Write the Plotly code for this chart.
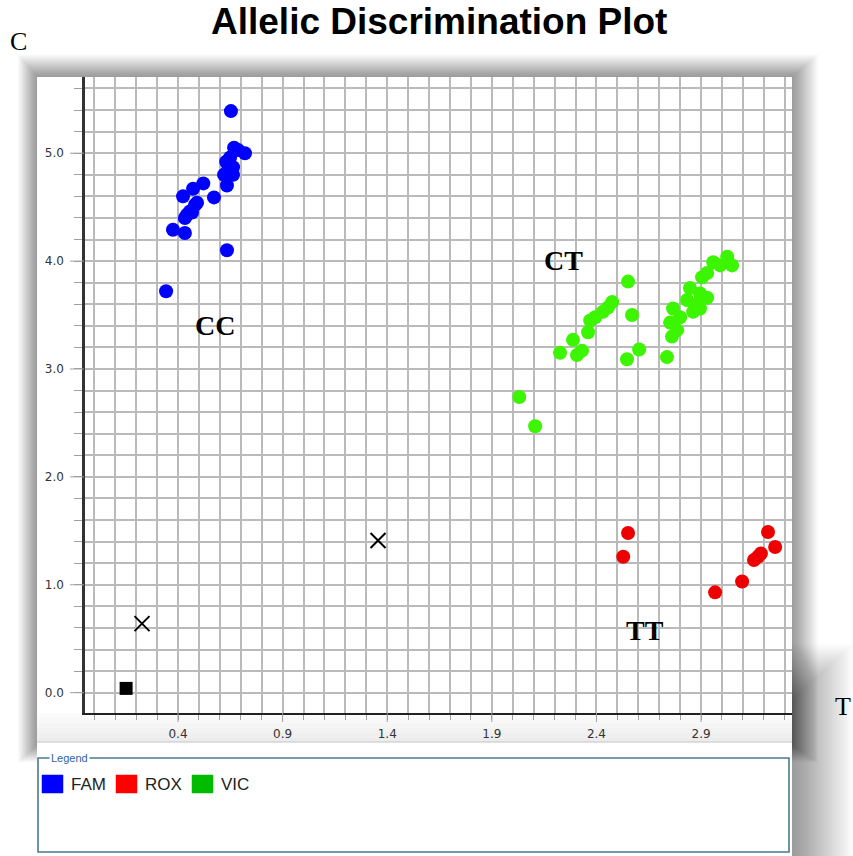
import plotly.graph_objects as go

# ---- data -------------------------------------------------------------
# FAM (allele C homozygotes)
fam_x = [0.653, 0.668, 0.720, 0.649, 0.687, 0.630, 0.663, 0.639, 0.663, 0.620,
         0.634, 0.521, 0.472, 0.424, 0.572, 0.491, 0.481, 0.467, 0.457, 0.443,
         0.433, 0.376, 0.433, 0.634, 0.343]
fam_y = [5.39, 5.05, 5.00, 4.96, 5.03, 4.92, 4.87, 4.84, 4.80, 4.80,
         4.70, 4.72, 4.67, 4.60, 4.59, 4.54, 4.52, 4.45, 4.46, 4.43,
         4.40, 4.29, 4.26, 4.10, 3.72]

# VIC (heterozygotes)
vic_x = [2.031, 2.107, 2.226, 2.288, 2.307, 2.331, 2.360, 2.370, 2.394, 2.431,
         2.455, 2.475, 2.551, 2.570, 2.604, 2.546, 2.737, 2.761, 2.785, 2.766,
         2.800, 2.833, 2.862, 2.847, 2.886, 2.895, 2.895, 2.929, 2.905, 2.929,
         2.958, 2.991, 3.025, 3.048, 2.752]
vic_y = [2.74, 2.47, 3.15, 3.27, 3.13, 3.17, 3.34, 3.45, 3.48, 3.53,
         3.57, 3.62, 3.81, 3.50, 3.18, 3.09, 3.11, 3.30, 3.36, 3.56,
         3.48, 3.64, 3.53, 3.75, 3.61, 3.70, 3.56, 3.66, 3.85, 3.89,
         3.99, 3.96, 4.04, 3.96, 3.43]

# ROX (allele T homozygotes)
rox_x = [2.551, 2.528, 2.967, 3.096, 3.153, 3.186, 3.172, 3.220, 3.254]
rox_y = [1.48, 1.26, 0.93, 1.03, 1.23, 1.29, 1.26, 1.49, 1.35]

# undetermined calls and no-template control
und_x = [0.228, 1.356]
und_y = [0.64, 1.41]
ntc_x = [0.152]
ntc_y = [0.04]

# genotype cluster labels
cluster_text = ["CC", "CT", "TT"]
cluster_x = [0.577, 2.243, 2.630]
cluster_y = [3.40, 4.01, 0.58]

# labelled ticks and grid steps
x_ticks = [0.4, 0.9, 1.4, 1.9, 2.4, 2.9]
y_ticks = [0.0, 1.0, 2.0, 3.0, 4.0, 5.0]
x_grid = [round(0.1 * i, 1) for i in range(34)]
y_grid = [round(0.2 * i, 1) for i in range(29)]

legend_names = ["FAM", "ROX", "VIC"]
legend_colors = ["#0000ff", "#ff0000", "#00bb00"]

# ---- page geometry (pixels) -----------------------------------------------
W, H = 853, 856
ML, MT, MR, MB = 85, 77, 61, 143
PW, PH = W - ML - MR, H - MT - MB


def fx(px):
    return (px - ML) / PW


def fy(py):
    return 1 - (py - MT) / PH


def rect(x0, y0, x1, y1, fill, opacity=1.0, line=None, layer="below"):
    return dict(type="rect", xref="paper", yref="paper",
                x0=fx(x0), x1=fx(x1), y0=fy(y1), y1=fy(y0),
                fillcolor=fill, opacity=opacity, layer=layer,
                line=line if line else dict(width=0))


shapes = []
# soft drop shadow around the chart panel
N = 36
for i in range(N):
    shapes.append(rect(37 - 0.55 * i, 77 - 0.65 * i, 792 + 0.75 * i, 745 + 0.5 * i,
                       "black", 0.0105))
for i in range(N):
    shapes.append(rect(690, 700 - 1.6 * i, 792 + 1.75 * i, 900, "black", 0.0135))

# white panel
shapes.append(rect(37, 77, 792, 900, "white"))
# light band under the x axis
band = ["#fbfbfb", "#f8f8f8", "#f5f5f5", "#f2f2f2", "#efefef", "#ececec"]
for k, c in enumerate(band):
    shapes.append(rect(37, 713 + k * 29 / 6, 792, 713 + (k + 1) * 29 / 6, c))
shapes.append(dict(type="line", xref="paper", yref="paper",
                   x0=fx(37), x1=fx(792), y0=fy(742), y1=fy(742),
                   line=dict(color="#c4c4c4", width=1.2), layer="below"))

# longer tick marks at the labelled values
tick_col = "#a0a0a0"
for v in x_ticks:
    shapes.append(dict(type="line", xref="x", yref="paper", x0=v, x1=v,
                       y0=fy(713), y1=fy(722), line=dict(color=tick_col, width=1),
                       layer="above"))
for v in y_ticks:
    shapes.append(dict(type="line", xref="paper", yref="y", y0=v, y1=v,
                       x0=fx(70), x1=fx(84), line=dict(color=tick_col, width=1),
                       layer="above"))

# legend frame
shapes.append(rect(38, 758, 789, 852, "rgba(0,0,0,0)",
                   line=dict(color="#4a7a90", width=1.6), layer="above"))

annotations = []
# legend swatches and labels
sw_x = [42, 116, 192]
for name, col, sx in zip(legend_names, legend_colors, sw_x):
    shapes.append(rect(sx, 775, sx + 21, 793, col,
                       line=dict(color=col, width=0.5), layer="above"))
    annotations.append(dict(xref="paper", yref="paper", x=fx(sx + 27), y=fy(784),
                            xanchor="left", yanchor="middle", showarrow=False,
                            text=name,
                            font=dict(family="Liberation Sans Narrow, Liberation Sans, Arial",
                                      size=17, color="#222222")))
annotations.append(dict(xref="paper", yref="paper", x=fx(49), y=fy(758),
                        xanchor="left", yanchor="middle", showarrow=False,
                        text="Legend", bgcolor="white", borderpad=1,
                        font=dict(family="Liberation Sans Narrow, Liberation Sans, Arial",
                                  size=11, color="#2f62a8")))

# title and allele axis letters
annotations.append(dict(xref="paper", yref="paper", x=fx(439), y=fy(21),
                        xanchor="center", yanchor="middle", showarrow=False,
                        text="<b>Allelic Discrimination Plot</b>",
                        font=dict(family="Liberation Sans, Arial", size=37, color="black")))
annotations.append(dict(xref="paper", yref="paper", x=fx(18.5), y=fy(42),
                        xanchor="center", yanchor="middle", showarrow=False,
                        text="C", font=dict(family="Liberation Serif, Times New Roman",
                                            size=26, color="black")))
annotations.append(dict(xref="paper", yref="paper", x=fx(843), y=fy(706),
                        xanchor="center", yanchor="middle", showarrow=False,
                        text="T", font=dict(family="Liberation Serif, Times New Roman",
                                            size=26, color="black")))

# genotype cluster labels in data space
for t, cx, cy in zip(cluster_text, cluster_x, cluster_y):
    annotations.append(dict(xref="x", yref="y", x=cx, y=cy, showarrow=False,
                            xanchor="center", yanchor="middle",
                            text=f"<b>{t}</b>",
                            font=dict(family="Liberation Serif, Times New Roman",
                                      size=28, color="black")))

fig = go.Figure()
fig.add_trace(go.Scatter(x=fam_x, y=fam_y, mode="markers", name="FAM",
                         marker=dict(color="#0000ff", size=14, line=dict(width=0))))
fig.add_trace(go.Scatter(x=vic_x, y=vic_y, mode="markers", name="VIC",
                         marker=dict(color="#3cf500", size=14, line=dict(width=0))))
fig.add_trace(go.Scatter(x=rox_x, y=rox_y, mode="markers", name="ROX",
                         marker=dict(color="#ee0000", size=14, line=dict(width=0))))
fig.add_trace(go.Scatter(x=und_x, y=und_y, mode="markers", name="Undetermined",
                         marker=dict(symbol="x-thin-open", color="black", size=15,
                                     line=dict(width=2, color="black"))))
fig.add_trace(go.Scatter(x=ntc_x, y=ntc_y, mode="markers", name="NTC",
                         marker=dict(symbol="square", color="black", size=13,
                                     line=dict(width=0))))

grid_col = "#bababa"
tick_font = dict(family="DejaVu Sans, Verdana", size=12, color="#333333")

fig.update_xaxes(
    range=[-0.0445, 3.3346], tickmode="array", tickvals=x_grid,
    ticktext=[f"{v:.1f}" if v in x_ticks else "" for v in x_grid],
    ticks="outside", ticklen=5, tickwidth=1, tickcolor=tick_col,
    ticklabelstandoff=4,
    showgrid=True, gridcolor=grid_col, gridwidth=1.6,
    showline=True, linecolor="#222222", linewidth=1.5, zeroline=False,
    tickfont=tick_font, fixedrange=True)

fig.update_yaxes(
    range=[-0.188, 5.706], tickmode="array", tickvals=y_grid,
    ticktext=[f"{v:.1f}" if v in y_ticks else "" for v in y_grid],
    ticks="outside", ticklen=8, tickwidth=1, tickcolor=tick_col,
    ticklabelstandoff=8,
    showgrid=True, gridcolor=grid_col, gridwidth=1.6,
    showline=True, linecolor="#333333", linewidth=2.5, zeroline=False,
    tickfont=tick_font, fixedrange=True)

fig.update_layout(
    width=W, height=H, autosize=False,
    margin=dict(l=ML, r=MR, t=MT, b=MB, pad=0),
    paper_bgcolor="white", plot_bgcolor="rgba(0,0,0,0)",
    showlegend=False, shapes=shapes, annotations=annotations)

fig.write_html("out.html", config={"displayModeBar": False})
